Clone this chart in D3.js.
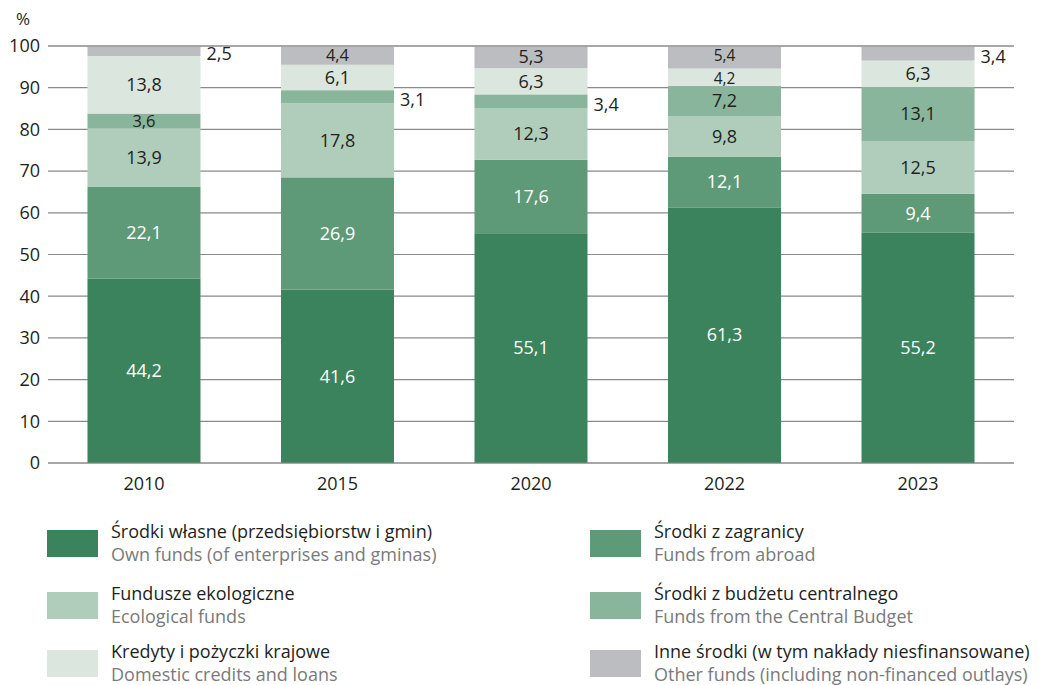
<!DOCTYPE html>
<html><head><meta charset="utf-8">
<script src="https://cdn.jsdelivr.net/npm/d3@7"></script>
<style>body{margin:0;background:#fff}svg{display:block}text{font-family:"Open Sans",sans-serif}</style>
</head><body><svg id="c" width="1055" height="685"></svg>
<script>
const years = ["2010","2015","2020","2022","2023"];
const ownFunds      = [44.2, 41.6, 55.1, 61.3, 55.2];
const fundsAbroad   = [22.1, 26.9, 17.6, 12.1, 9.4];
const ecoFunds      = [13.9, 17.8, 12.3, 9.8, 12.5];
const centralBudget = [3.6, 3.1, 3.4, 7.2, 13.1];
const domesticCred  = [13.8, 6.1, 6.3, 4.2, 6.3];
const otherFunds    = [2.5, 4.4, 5.3, 5.4, 3.4];
const yTicks = [0,10,20,30,40,50,60,70,80,90,100];

const series = [
  {key:"own", values:ownFunds, color:"#3a835c", labelColor:"#fff", pl:"Środki własne (przedsiębiorstw i gmin)", en:"Own funds (of enterprises and gminas)"},
  {key:"abroad", values:fundsAbroad, color:"#5f9a78", labelColor:"#fff", pl:"Środki z zagranicy", en:"Funds from abroad"},
  {key:"eco", values:ecoFunds, color:"#b0cdbb", labelColor:"#231f20", pl:"Fundusze ekologiczne", en:"Ecological funds"},
  {key:"central", values:centralBudget, color:"#88b59c", labelColor:"#231f20", pl:"Środki z budżetu centralnego", en:"Funds from the Central Budget"},
  {key:"domestic", values:domesticCred, color:"#dae6de", labelColor:"#231f20", pl:"Kredyty i pożyczki krajowe", en:"Domestic credits and loans"},
  {key:"other", values:otherFunds, color:"#bcbdc1", labelColor:"#231f20", pl:"Inne środki (w tym nakłady niesfinansowane)", en:"Other funds (including non-financed outlays)"}
];
const outside = {"other-0":true, "central-1":true, "central-2":true, "other-4":true};
// tight neighbouring labels: small vertical nudge (px) and smaller size
const nudge = {"other-3":-1.5, "domestic-3":1.5};

const svg = d3.select("#c");
const x = d3.scaleBand().domain(years).range([48,1014]).paddingInner(0.416).paddingOuter(0.204);
const y = d3.scaleLinear().domain([0,100]).range([463,46]);
const FS = 18;

const g = svg.append("g");
g.selectAll("line.grid").data(yTicks).join("line")
  .attr("x1",48).attr("x2",1014).attr("y1",d=>y(d)).attr("y2",d=>y(d))
  .attr("stroke","#8a8a8a").attr("stroke-width",1.2);
g.selectAll("text.yt").data(yTicks).join("text")
  .attr("x",40).attr("y",d=>y(d)).attr("dy","0.35em").attr("text-anchor","end")
  .attr("font-size",FS).attr("fill","#231f20").text(d=>d);
svg.append("text").attr("x",16).attr("y",25).attr("font-size",17).attr("fill","#231f20").text("%");

const rows = years.map((yr,i)=>{const o={year:yr}; series.forEach(s=>o[s.key]=s.values[i]); return o;});
const stack = d3.stack().keys(series.map(s=>s.key))(rows);
stack.forEach((layer,li)=>{
  const s = series[li];
  svg.append("g").selectAll("rect").data(layer).join("rect")
    .attr("x",d=>x(d.data.year)).attr("width",x.bandwidth())
    .attr("y",d=>y(d[1])).attr("height",d=>y(d[0])-y(d[1]))
    .attr("fill",s.color);
});
svg.append("line").attr("x1",48).attr("x2",1014).attr("y1",y(0)).attr("y2",y(0)).attr("stroke","#8a8a8a").attr("stroke-width",1.2);
svg.append("line").attr("x1",48).attr("x2",1014).attr("y1",y(100)).attr("y2",y(100)).attr("stroke","#8a8a8a").attr("stroke-width",1.2);

stack.forEach((layer,li)=>{
  const s = series[li];
  layer.forEach((d,i)=>{
    const v = s.values[i];
    const txt = v.toFixed(1).replace(".",",");
    const h = y(d[0])-y(d[1]);
    const cy = (y(d[0])+y(d[1]))/2;
    const id = s.key+"-"+i;
    if(outside[id]){
      svg.append("text").attr("x",x(d.data.year)+x.bandwidth()+6).attr("y",cy+3).attr("dy","0.35em")
        .attr("font-size",FS).attr("fill","#231f20").text(txt);
    } else {
      const n = nudge[id]||0;
      svg.append("text").attr("x",x(d.data.year)+x.bandwidth()/2).attr("y",cy+n).attr("dy","0.35em")
        .attr("text-anchor","middle").attr("font-size",n?15.5:(h<19?16.5:FS)).attr("fill",s.labelColor).text(txt);
    }
  });
});

svg.selectAll("text.xl").data(years).join("text")
  .attr("x",d=>x(d)+x.bandwidth()/2).attr("y",490).attr("text-anchor","middle")
  .attr("font-size",FS).attr("fill","#231f20").text(d=>d);

const legOrder = [["own","abroad"],["eco","central"],["domestic","other"]];
const colX = [47,590], rowY=[530,592,650];
legOrder.forEach((r,ri)=>r.forEach((k,ci)=>{
  const s = series.find(z=>z.key===k);
  const lg = svg.append("g").attr("transform",`translate(${colX[ci]},${rowY[ri]})`);
  lg.append("rect").attr("width",51).attr("height",27).attr("fill",s.color);
  lg.append("text").attr("x",64).attr("y",8).attr("font-size",18).attr("fill","#231f20").text(s.pl);
  lg.append("text").attr("x",64).attr("y",30.5).attr("font-size",18).attr("fill","#7a7a7a").text(s.en);
}));
</script></body></html>
